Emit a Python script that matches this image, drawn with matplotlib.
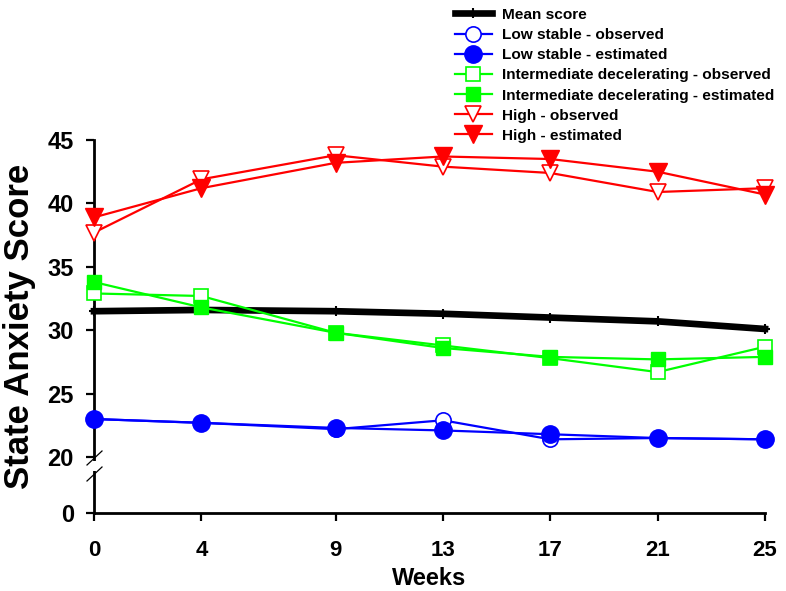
import numpy as np
import matplotlib
matplotlib.use("Agg")
import matplotlib.pyplot as plt

weeks = [0, 4, 9, 13, 17, 21, 25]
mean_score = [31.5, 31.6, 31.5, 31.3, 31.0, 30.7, 30.1]
low_obs = [23.0, 22.7, 22.2, 22.9, 21.4, 21.5, 21.4]
low_est = [23.0, 22.7, 22.3, 22.1, 21.8, 21.5, 21.4]
int_obs = [32.9, 32.7, 29.8, 28.8, 27.8, 26.7, 28.7]
int_est = [33.8, 31.8, 29.8, 28.6, 27.9, 27.7, 27.9]
high_obs = [37.7, 41.9, 43.8, 42.9, 42.4, 40.9, 41.2]
high_est = [38.9, 41.2, 43.2, 43.7, 43.5, 42.5, 40.7]
yticks = [0, 20, 25, 30, 35, 40, 45]
labels = ["Mean score", "Low stable - observed", "Low stable - estimated",
          "Intermediate decelerating - observed", "Intermediate decelerating - estimated",
          "High - observed", "High - estimated"]

BREAK = 20.0
C = 4.41


def fwd(v):
    v = np.asarray(v, dtype=float)
    return np.where(v >= BREAK, v - BREAK + C, v * C / BREAK)


def inv(t):
    t = np.asarray(t, dtype=float)
    return np.where(t >= C, t - C + BREAK, t * BREAK / C)


plt.rcParams['font.family'] = ['Liberation Sans', 'DejaVu Sans']
plt.rcParams['font.weight'] = 'bold'

fig = plt.figure(figsize=(7.86, 5.91), dpi=100)
ax = fig.add_axes([94 / 786, 1 - 513 / 591, (765 - 94) / 786, (513 - 140) / 591])
ax.set_yscale('function', functions=(fwd, inv))

blue, green, red = '#0000FF', '#00FF00', '#FF0000'
lw = 1.6
h = []
h.append(ax.plot(weeks, mean_score, color='black', lw=4.8, marker='+', ms=7, mew=1.5, clip_on=False, zorder=2)[0])
h.append(ax.plot(weeks, low_obs, color=blue, lw=lw, marker='o', ms=11, mfc='white', mec=blue, mew=1.2, clip_on=False, zorder=3)[0])
h.append(ax.plot(weeks, low_est, color=blue, lw=lw, marker='o', ms=12.5, mfc=blue, mec=blue, clip_on=False, zorder=4)[0])
h.append(ax.plot(weeks, int_obs, color=green, lw=lw, marker='s', ms=10, mfc='white', mec=green, mew=1.2, clip_on=False, zorder=3)[0])
h.append(ax.plot(weeks, int_est, color=green, lw=lw, marker='s', ms=10.5, mfc=green, mec=green, clip_on=False, zorder=4)[0])
h.append(ax.plot(weeks, high_obs, color=red, lw=lw, marker='v', ms=11.5, mfc='white', mec=red, mew=1.2, clip_on=False, zorder=3)[0])
h.append(ax.plot(weeks, high_est, color=red, lw=lw, marker='v', ms=12.5, mfc=red, mec=red, clip_on=False, zorder=4)[0])

ax.set_xlim(0, 25)
ax.set_ylim(0, 45)
ax.set_xticks(weeks)
ax.set_xticklabels([str(w) for w in weeks], fontsize=16, fontweight='bold')
ax.set_yticks(yticks)
ax.set_yticklabels([str(t) for t in yticks], fontsize=17, fontweight='bold')
ax.yaxis.set_minor_locator(matplotlib.ticker.NullLocator())
ax.tick_params(axis='y', direction='out', length=5.5, width=1.6, pad=9)
ax.tick_params(axis='x', direction='out', length=5.5, width=1.6, pad=14)
for s in ['top', 'right']:
    ax.spines[s].set_visible(False)
for s in ['left', 'bottom']:
    ax.spines[s].set_linewidth(2)

ax.set_xlabel('Weeks', fontsize=17, fontweight='bold', labelpad=4)
ax.set_ylabel('State Anxiety Score', fontsize=25, fontweight='bold', labelpad=8)

# axis break: gap in spine plus two slanted marks
ax.plot([0, 0], [(513 - 461) / 373, (513 - 471) / 373], transform=ax.transAxes,
        color='white', lw=4, clip_on=False, zorder=6, solid_capstyle='butt')
for yc in [458, 474]:
    yf = (513 - yc) / 373
    ax.plot([-7 / 671, 8 / 671], [yf - 7 / 373, yf + 7 / 373], transform=ax.transAxes,
            color='black', lw=0.9, clip_on=False, zorder=7)

fig.legend(h, labels, loc='upper left', bbox_to_anchor=(444 / 786, 1.005), frameon=False,
           handlelength=2.4, handletextpad=0.65, labelspacing=0.40,
           borderpad=0.2, prop={'weight': 'bold', 'size': 11.1})

fig.savefig('out.png', dpi=100)
